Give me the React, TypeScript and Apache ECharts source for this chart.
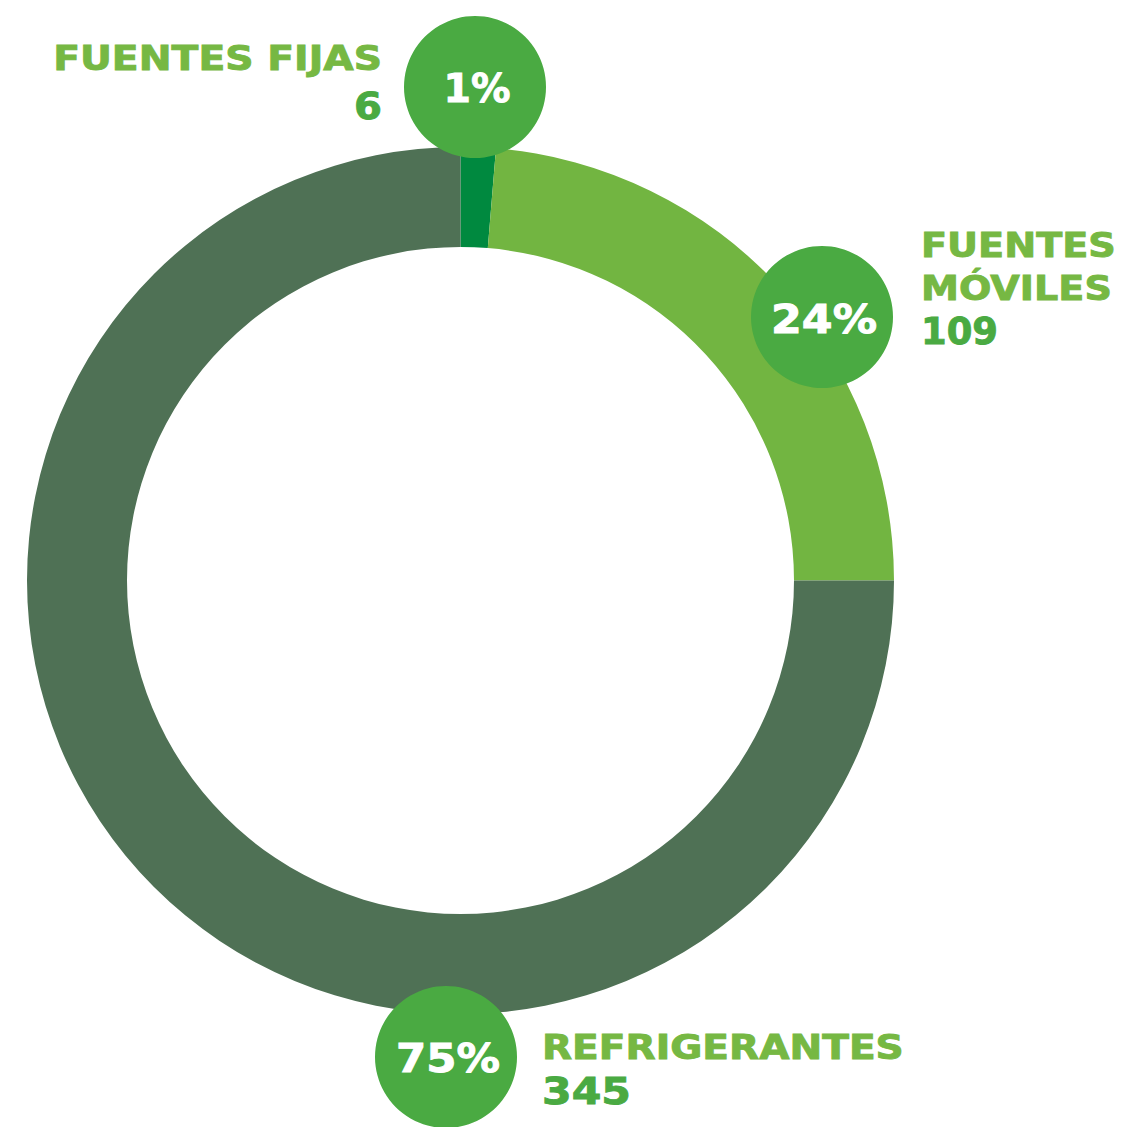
import React, { useEffect, useRef } from "react";
import * as echarts from "echarts";

// ---- data ----
const categories = ["Fuentes fijas", "Fuentes móviles", "Refrigerantes"];
const labelLines = [["FUENTES FIJAS"], ["FUENTES", "MÓVILES"], ["REFRIGERANTES"]];
const values = [6, 109, 345];
const sliceColors = ["#00893F", "#72B541", "#4F7155"];

const FONT = "'DejaVu Sans', sans-serif";
const NAME_COLOR = "#76B843";
const NUM_COLOR = "#4AAA42";
const BUBBLE_COLOR = "#4AAA42";

function measure(text: string, size: number): number {
  const c = document.createElement("canvas").getContext("2d")!;
  c.font = `bold ${size}px ${FONT}`;
  return c.measureText(text).width;
}

function txt(text: string, x: number, y: number, size: number, width: number, fill: string, align: string) {
  const w = measure(text, size);
  const s = width / w;
  return {
    type: "text",
    x,
    y,
    scaleX: s,
    z: 110,
    silent: true,
    style: {
      text,
      fill,
      stroke: fill,
      lineWidth: 0.9,
      font: `bold ${size}px ${FONT}`,
      fontSize: size,
      fontWeight: "bold",
      fontFamily: FONT,
      align,
      textAlign: align,
      verticalAlign: "middle",
      textVerticalAlign: "middle",
    },
  };
}

export default function App() {
  const ref = useRef<HTMLDivElement>(null);
  useEffect(() => {
    const chart = echarts.init(ref.current!, undefined, { renderer: "svg" });
    const total = values.reduce((a, b) => a + b, 0);
    const pct = values.map((v) => Math.round((v / total) * 100) + "%");

    // layout of annotation bubbles / labels
    const bubbles = [
      { cx: 475, cy: 87 },
      { cx: 822, cy: 317 },
      { cx: 446, cy: 1057 },
    ];
    const pctWidths = [67, 106, 104];

    const graphics: any[] = [];
    bubbles.forEach((b, i) => {
      graphics.push({
        type: "circle",
        shape: { cx: b.cx, cy: b.cy, r: 71 },
        style: { fill: BUBBLE_COLOR },
        z: 100,
        silent: true,
      });
      graphics.push(txt(pct[i], b.cx + 2, b.cy + 2, 39, pctWidths[i], "#FFFFFF", "center"));
    });

    // Fuentes fijas (right aligned)
    graphics.push(txt(labelLines[0][0], 382, 58, 34, 329, NAME_COLOR, "right"));
    graphics.push(txt(String(values[0]), 382, 106, 38, 28, NUM_COLOR, "right"));
    // Fuentes móviles
    graphics.push(txt(labelLines[1][0], 921, 245, 34, 195, NAME_COLOR, "left"));
    graphics.push(txt(labelLines[1][1], 921, 288, 34, 191, NAME_COLOR, "left"));
    graphics.push(txt(String(values[1]), 921, 331, 38, 77, NUM_COLOR, "left"));
    // Refrigerantes
    graphics.push(txt(labelLines[2][0], 542, 1047, 34, 362, NAME_COLOR, "left"));
    graphics.push(txt(String(values[2]), 542, 1091, 38, 89, NUM_COLOR, "left"));

    chart.setOption({
      animation: false,
      backgroundColor: "#FFFFFF",
      series: [
        {
          type: "pie",
          center: [460.5, 580.5],
          radius: [333.5, 433.5],
          startAngle: 90,
          clockwise: true,
          silent: true,
          label: { show: false },
          labelLine: { show: false },
          emphasis: { disabled: true },
          itemStyle: { borderWidth: 0 },
          data: categories.map((name, i) => ({
            name,
            value: values[i],
            itemStyle: { color: sliceColors[i] },
          })),
        },
      ],
      graphic: { elements: graphics },
    });
    return () => chart.dispose();
  }, []);
  return (
    <div
      ref={ref}
      style={{ position: "absolute", left: 0, top: 0, width: 1127, height: 1127 }}
    />
  );
}
